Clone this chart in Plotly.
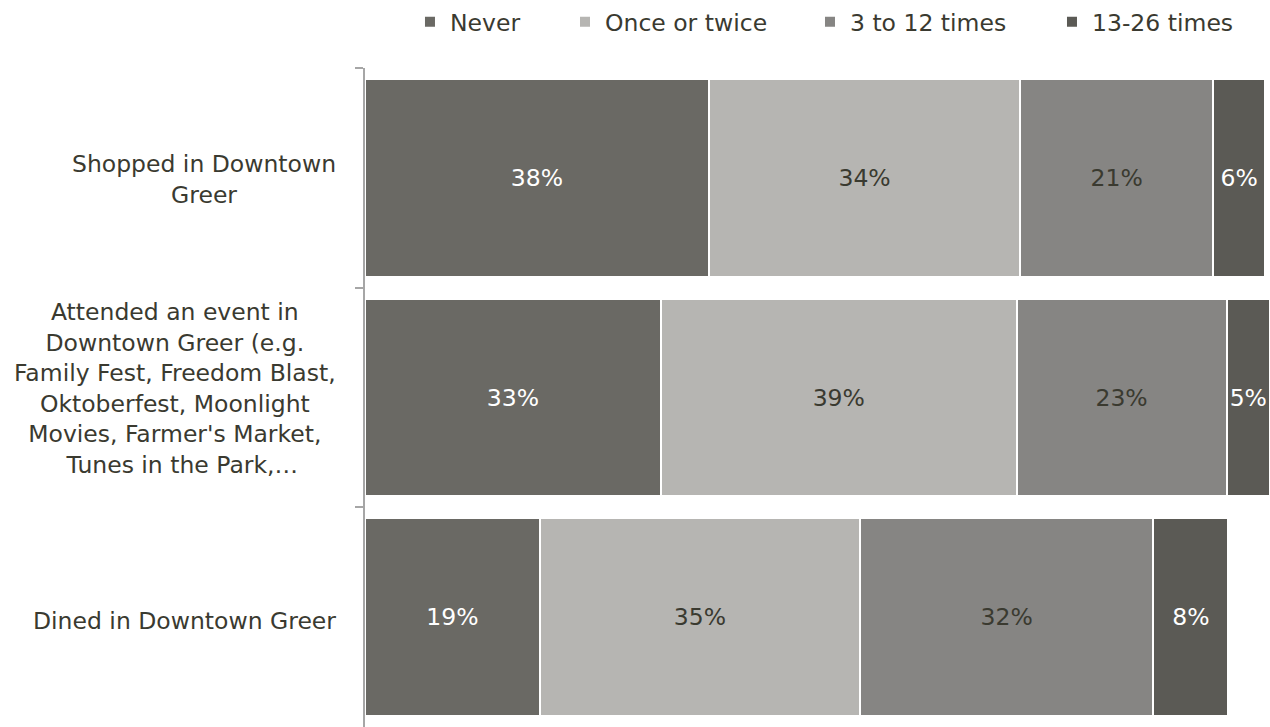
import plotly.graph_objects as go

categories = ["Shopped", "Attended", "Dined"]
category_labels = [
    "Shopped in Downtown<br>Greer",
    "Attended an event in<br>Downtown Greer (e.g.<br>Family Fest, Freedom Blast,<br>Oktoberfest, Moonlight<br>Movies, Farmer's Market,<br>  Tunes in the Park,…",
    "Dined in Downtown Greer",
]
series_names = ["Never", "Once or twice", "3 to 12 times", "13-26 times"]
never = [0.380, 0.327, 0.193]
once_twice = [0.344, 0.393, 0.354]
three_twelve = [0.213, 0.232, 0.324]
thirteen_26 = [0.058, 0.048, 0.083]

series_values = [never, once_twice, three_twelve, thirteen_26]
colors = ["#6a6964", "#b6b5b2", "#868583", "#5b5a55"]
text_colors = ["#ffffff", "#3a3a30", "#3a3a30", "#ffffff"]
legend_ids = ["legend", "legend2", "legend3", "legend4"]
legend_x = [0.0497, 0.2210, 0.4917, 0.7591]
label_yshift = [-2, 9, -4]

FONT = "DejaVu Sans"
FS = 23.5
fig = go.Figure()
for name, vals, col, tcol, lg in zip(series_names, series_values, colors, text_colors, legend_ids):
    fig.add_trace(go.Bar(
        name=name, y=categories, x=vals, orientation="h",
        marker=dict(color=col, line=dict(color="#ffffff", width=2)),
        texttemplate="%{x:.0%}", textposition="inside", insidetextanchor="middle",
        textangle=0, textfont=dict(family=FONT, size=FS, color=tcol),
        legend=lg, hoverinfo="skip",
    ))

layout_legends = {}
for lg, lx in zip(legend_ids, legend_x):
    layout_legends[lg] = dict(
        orientation="h", x=lx, xanchor="left", y=1.07, yanchor="middle",
        font=dict(family=FONT, size=FS, color="#3a3a30"),
        bgcolor="rgba(0,0,0,0)", borderwidth=0, itemwidth=30,
    )

annotations = []
for cat, lab, ys in zip(categories, category_labels, label_yshift):
    annotations.append(dict(
        x=0, xref="paper", y=cat, yref="y", text=lab, showarrow=False,
        xanchor="right", yanchor="middle", align="center", xshift=-27, yshift=ys,
        font=dict(family=FONT, size=FS, color="#3a3a30"),
    ))

fig.update_layout(
    width=1270, height=727, barmode="stack", bargap=0.1,
    margin=dict(l=365, r=0, t=68, b=0),
    paper_bgcolor="#ffffff", plot_bgcolor="#ffffff",
    showlegend=True, annotations=annotations,
    uniformtext=dict(minsize=FS, mode="show"),
    **layout_legends,
)
fig.update_xaxes(range=[0, 1.0], visible=False, showgrid=False, zeroline=False)
fig.update_yaxes(
    categoryorder="array", categoryarray=categories, range=[2.5, -0.5],
    showticklabels=False, showgrid=False, zeroline=False,
    showline=True, linecolor="#a6a6a6", linewidth=2,
    ticks="outside", tickson="boundaries", ticklen=8, tickcolor="#a6a6a6", tickwidth=2,
)
fig.write_html("out.html")
